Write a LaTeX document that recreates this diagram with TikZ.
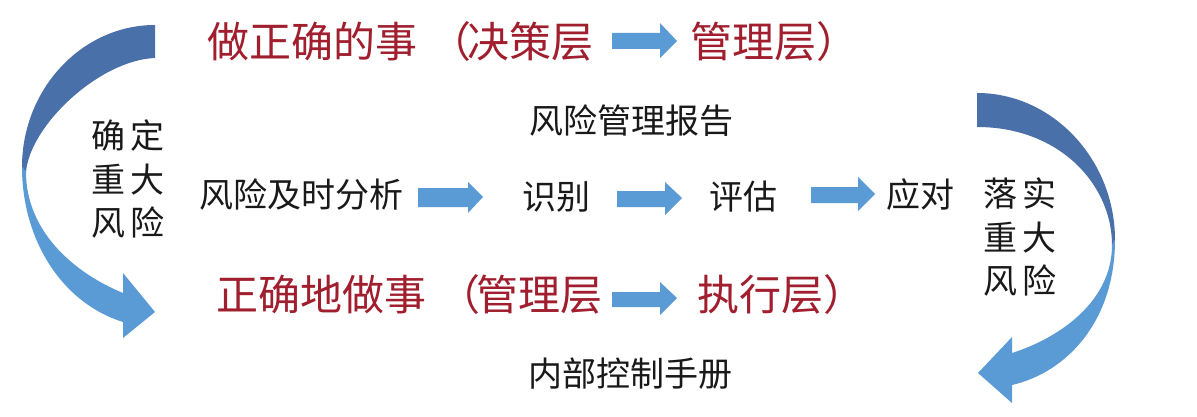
\documentclass[tikz,border=0pt]{standalone}
\usepackage{fontspec}
\setmainfont{Noto Sans CJK SC}
\definecolor{titlered}{RGB}{160,30,45}
\definecolor{textdark}{RGB}{25,25,25}
\definecolor{flowblue}{RGB}{91,155,213}
\definecolor{darkblue}{RGB}{74,112,170}
\tikzset{
  title/.style={font=\fontsize{42}{42}\selectfont, text=titlered, inner sep=0pt, anchor=west},
  body/.style={font=\fontsize{34}{34}\selectfont, text=textdark, inner sep=0pt},
  vtext/.style={font=\fontsize{34}{43.5}\selectfont, text=textdark, inner sep=0pt, align=center},
  blockarrow/.style={fill=flowblue, draw=none},
  backpart/.style={fill=darkblue, draw=none},
  frontpart/.style={fill=flowblue, draw=none}
}
\begin{document}
\begin{tikzpicture}[x=1pt,y=-1pt]
\useasboundingbox (0,0) rectangle (1197,417);
\fill[white] (0,0) rectangle (1197,417);

% left curved arrow
\fill[backpart] (155,25) .. controls (82,25) and (22,89) .. (22,167)
  -- (26,172) .. controls (30,125) and (100,60) .. (155,58) -- cycle;
\fill[frontpart] (22,167) .. controls (22,240) and (62,303) .. (123,322)
  -- (123,338) -- (155,312) -- (123,273) -- (123,293)
  .. controls (72,272) and (26,230) .. (26,172) -- cycle;

% right curved arrow
\fill[backpart] (977,93) .. controls (1053,93) and (1115,160) .. (1115,240)
  -- (1112,245) .. controls (1112,185) and (1060,127) .. (977,127) -- cycle;
\fill[frontpart] (1115,240) .. controls (1115,320) and (1068,372) .. (1012,385)
  -- (1012,403) -- (978,373) -- (1012,337) -- (1012,353)
  .. controls (1062,337) and (1112,300) .. (1112,245) -- cycle;

% titles
\node[title] (top1) at (207,42) {做正确的事\hspace{12pt}（\hspace{-4pt}决策层};
\node[title] (top2) at (690,42) {管理层）};
\node[title] (bot1) at (216,295) {正确地做事\hspace{12pt}（\hspace{-4pt}管理层};
\node[title] (bot2) at (697,295) {执行层）};

% block arrows in titles
\fill[blockarrow] (612,33) -- (660,33) -- (660,23) -- (677,41) -- (660,58) -- (660,49) -- (612,49) -- cycle;
\fill[blockarrow] (612,292) -- (660,292) -- (660,282) -- (677,298) -- (660,315) -- (660,307) -- (612,307) -- cycle;

% body texts
\node[vtext] (leftv) at (128,179) {确\hspace{6pt}定\\重\hspace{6pt}大\\风\hspace{6pt}险};
\node[vtext] (rightv) at (1020,237) {落\hspace{6pt}实\\重\hspace{6pt}大\\风\hspace{6pt}险};
\node[body] (report) at (631,121) {风险管理报告};
\node[body] (analysis) at (301,195) {风险及时分析};
\node[body] (identify) at (556,197) {识别};
\node[body] (assess) at (743,197) {评估};
\node[body] (respond) at (920,195) {应对};
\node[body] (manual) at (630,374) {内部控制手册};

% flow arrows
\fill[blockarrow] (418,188) -- (468,188) -- (468,182) -- (483,197) -- (468,213) -- (468,207) -- (418,207) -- cycle;
\fill[blockarrow] (617,191) -- (665,191) -- (665,182) -- (682,198) -- (665,215) -- (665,207) -- (617,207) -- cycle;
\fill[blockarrow] (811,187) -- (858,187) -- (858,177) -- (875,194) -- (858,211) -- (858,203) -- (811,203) -- cycle;
\end{tikzpicture}
\end{document}
